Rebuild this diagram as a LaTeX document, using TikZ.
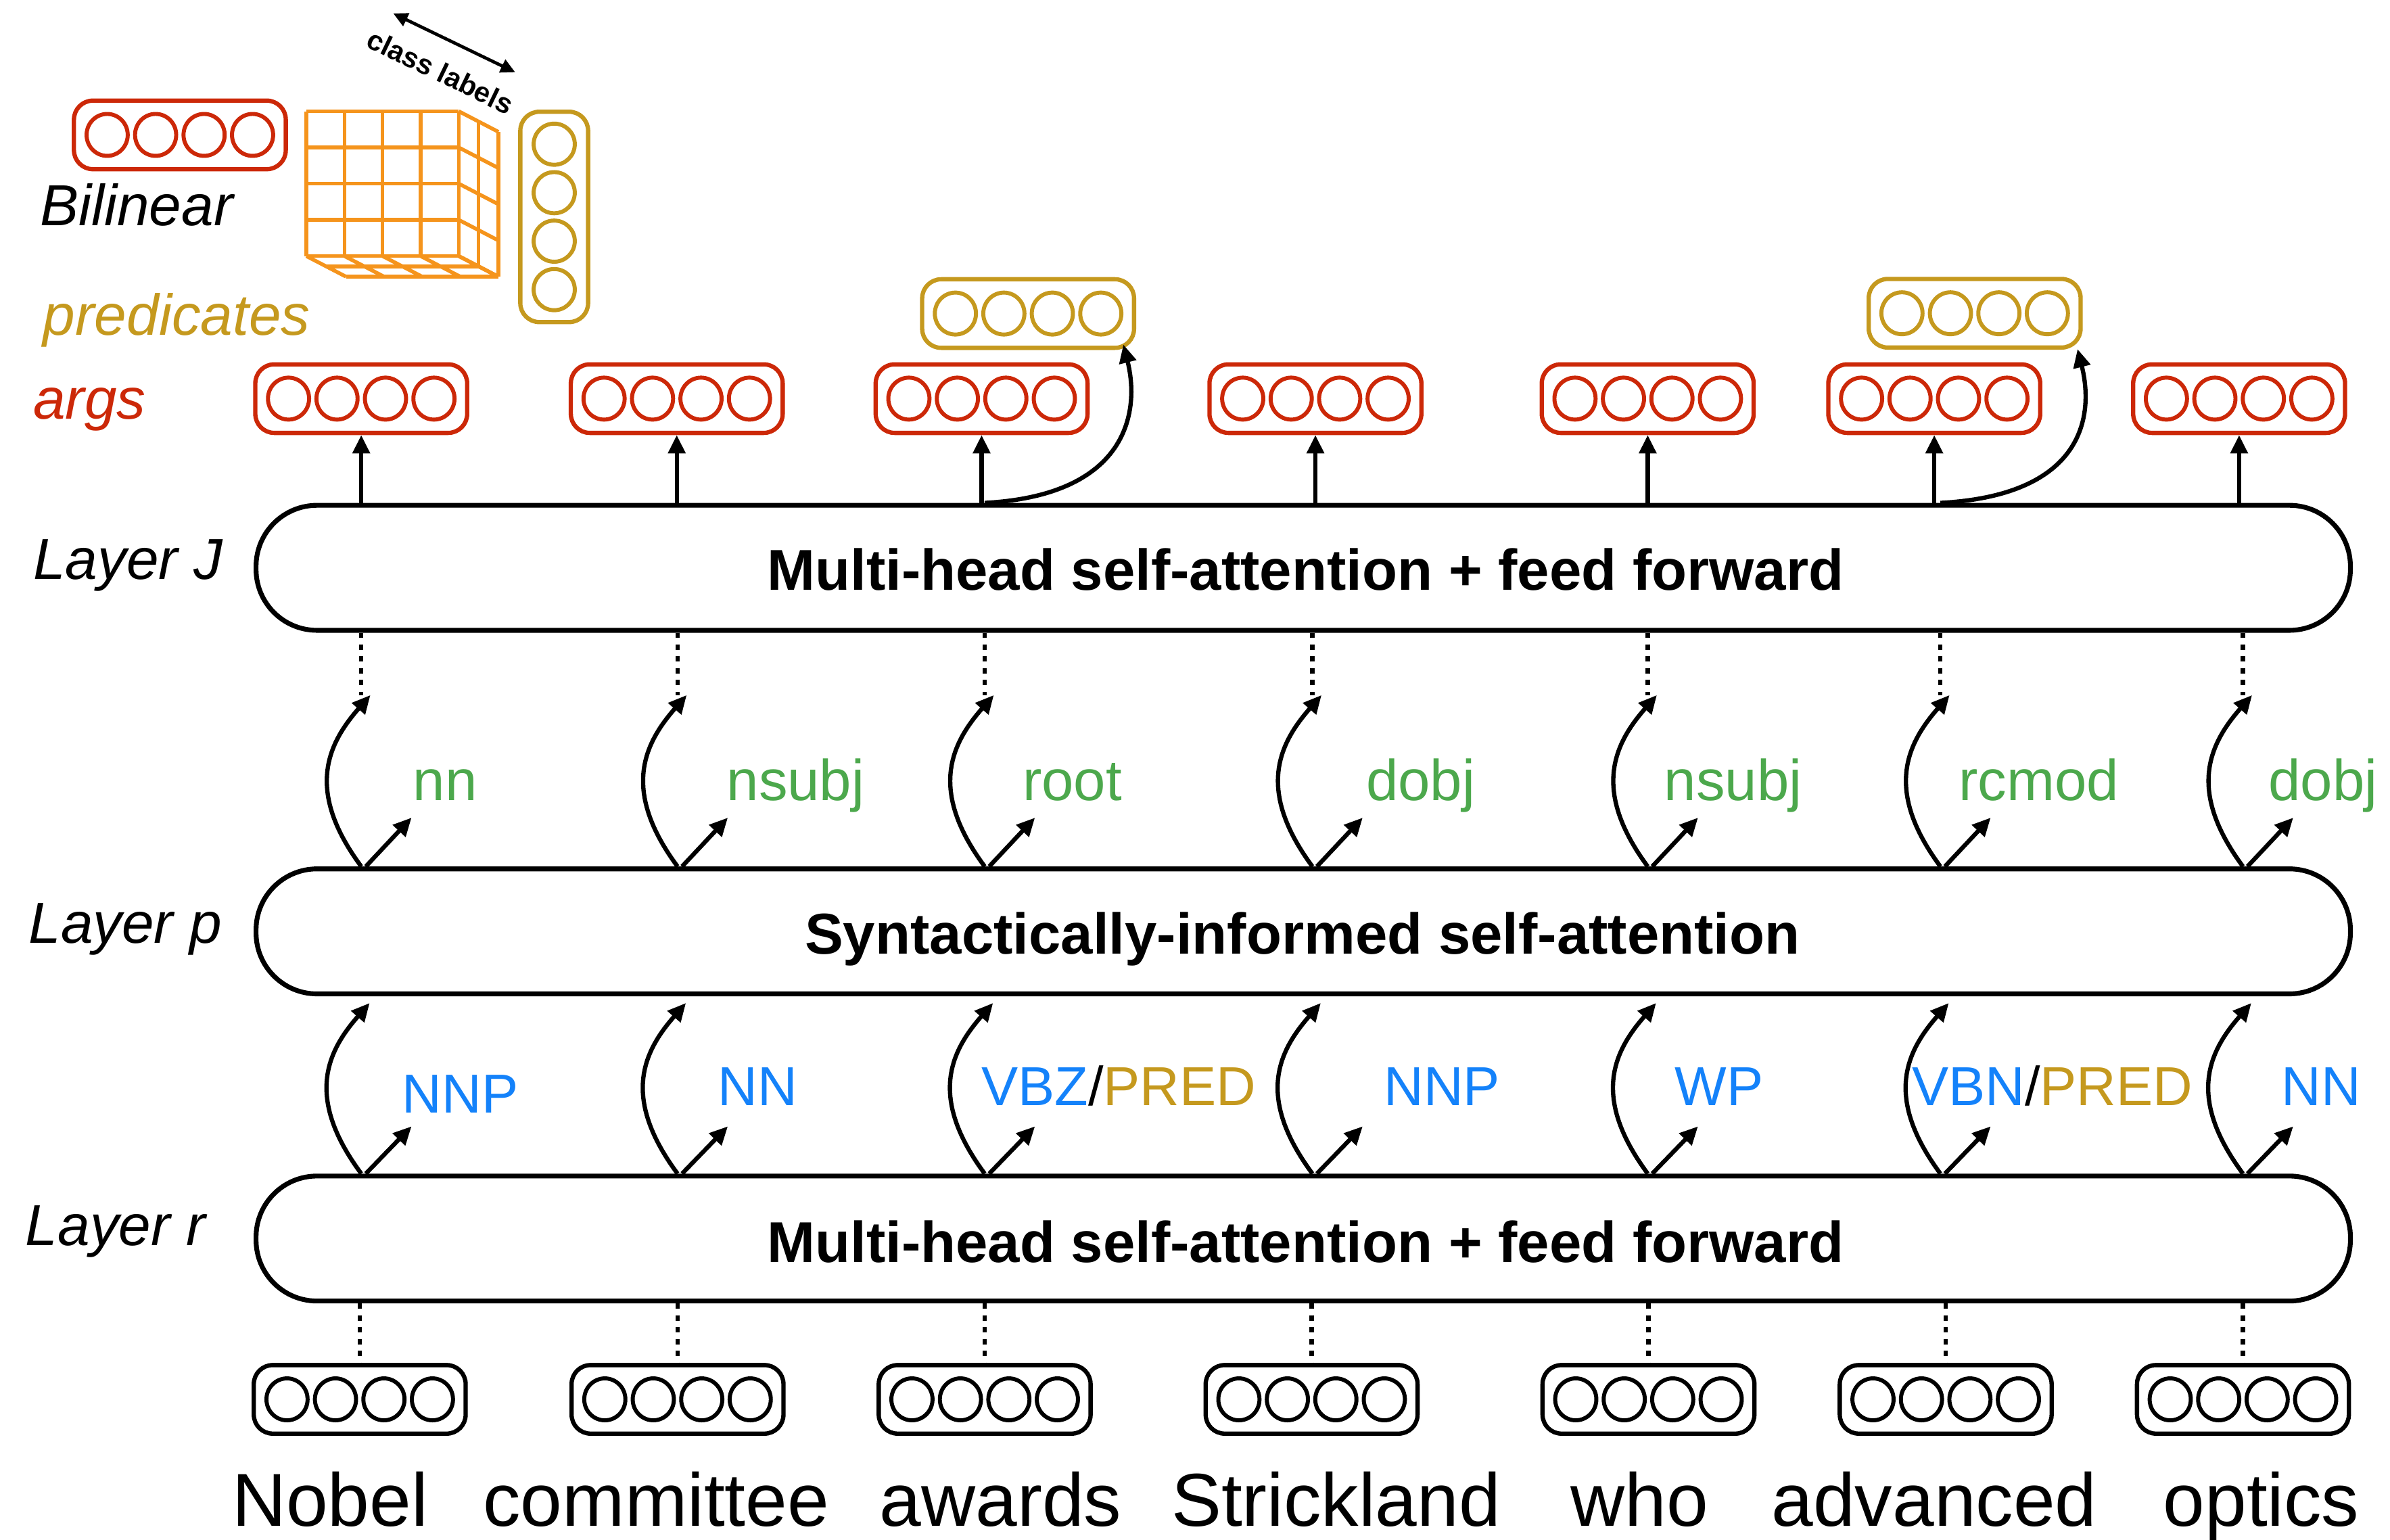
\documentclass[tikz,border=0pt]{standalone}
\usepackage{fontspec}
\setmainfont{Liberation Sans}
\usetikzlibrary{arrows.meta,calc}
\definecolor{cred}{RGB}{204,40,8}
\definecolor{cgold}{RGB}{197,153,30}
\definecolor{corange}{RGB}{245,148,28}
\definecolor{cgreen}{RGB}{76,168,76}
\definecolor{cblue}{RGB}{20,130,250}
\newcommand\szbox{\fontsize{21.5pt}{26pt}\selectfont\bfseries}
\newcommand\szlab{\fontsize{21.6pt}{26pt}\selectfont\itshape}
\newcommand\szword{\fontsize{28pt}{33pt}\selectfont}
\newcommand\szdep{\fontsize{21.5pt}{26pt}\selectfont}
\newcommand\szpos{\fontsize{20.5pt}{25pt}\selectfont}
\newcommand\szcls{\fontsize{10.5pt}{12pt}\selectfont\bfseries}
\begin{document}
\begin{tikzpicture}[x=0.2mm,y=-0.2mm,
  vecbox/.style={draw=#1, line width=1.6pt, rounded corners=2.5mm,
    minimum width=27.8mm, minimum height=9mm, inner sep=0pt,
    path picture={\foreach \k in {-1.5,-0.5,0.5,1.5}{
      \draw[#1,line width=1.5pt] ([xshift=\k*6.36mm]path picture bounding box.center)
        ellipse [x radius=2.7mm, y radius=2.75mm];}}},
  vvecbox/.style={draw=#1, line width=1.6pt, rounded corners=2.5mm,
    minimum width=8.9mm, minimum height=27.6mm, inner sep=0pt,
    path picture={\foreach \k in {-1.5,-0.5,0.5,1.5}{
      \draw[#1,line width=1.5pt] ([yshift=\k*6.36mm]path picture bounding box.center)
        ellipse [x radius=2.7mm, y radius=2.7mm];}}},
  layerbox/.style={draw, line width=1.8pt, rounded corners=8mm,
    minimum width=274.8mm, minimum height=16.4mm, inner sep=0pt},
  boxtxt/.style={font=\szbox, anchor=base, inner sep=0pt},
  lbl/.style={font=\szlab, anchor=base west, inner sep=0pt},
  wordtxt/.style={font=\szword, anchor=base, inner sep=0pt},
  deptxt/.style={font=\szdep, text=cgreen, anchor=base, inner sep=0pt},
  postxt/.style={font=\szpos, text=cblue, anchor=base, inner sep=0pt},
  arr/.style={-{Triangle[length=2.4mm,width=2.2mm]}, line width=1.6pt},
  dotl/.style={line width=1.6pt, dash pattern=on 0.7mm off 0.85mm}
]
\useasboundingbox (0,0) rectangle (1568,1010);

% ---------- legend (top left) ----------
\node[vecbox=cred] (legred) at (118,88.5) {};
\node[vvecbox=cgold] (leggold) at (363.6,142.3) {};
\node[lbl] (bil) at (26,148) {Bilinear};
\node[lbl, text=cgold] (predl) at (28,220) {predicates};
\node[lbl, text=cred] (argsl) at (21.5,275) {args};

% cube
\begin{scope}[corange, line width=1.4pt]
\foreach \i in {0,...,4} {
  \draw (201+25*\i,73) -- (201+25*\i,168);
  \draw (201,73+23.75*\i) -- (301,73+23.75*\i);
  \draw (301,73+23.75*\i) -- (327,86.5+23.75*\i);
  \draw (201+25*\i,168) -- (227+25*\i,181.5);
}
\draw (314,79.75) -- (314,174.75);
\draw (327,86.5) -- (327,181.5);
\draw (214,174.75) -- (314,174.75);
\draw (227,181.5) -- (327,181.5);
\end{scope}

% class labels
\coordinate (cla) at (258,8.8);
\coordinate (clb) at (338,47.4);
\draw[{Triangle[length=1.9mm,width=1.8mm]}-{Triangle[length=1.9mm,width=1.8mm]}, line width=1.2pt] (cla) -- (clb);
\node[font=\szcls, rotate=-25.8, inner sep=0pt] (cltxt) at (289,47) {class labels};

% ---------- layer boxes ----------
\node[layerbox] (J) at (855,372.5) {};
\node[layerbox] (P) at (855,611) {};
\node[layerbox] (R) at (855,812.5) {};
\node[boxtxt] (Jt) at (856.5,387) {Multi-head self-attention + feed forward};
\node[boxtxt] (Pt) at (854.5,626) {Syntactically-informed self-attention};
\node[boxtxt] (Rt) at (856.5,828) {Multi-head self-attention + feed forward};
\node[lbl] (LJ) at (21.5,380) {Layer J};
\node[lbl] (LP) at (18.5,618.5) {Layer p};
\node[lbl] (LR) at (16.5,817) {Layer r};

% ---------- columns ----------
\foreach \i/\x in {1/237,2/444.5,3/646,4/861,5/1081,6/1273,7/1471.5}{
  \coordinate (c\i) at (\x,0);
  \coordinate (tu\i) at (\x+6,456);
  \coordinate (tl\i) at (\x+5.5,658);
}

% args and predicate vectors
\foreach \i/\x in {1/237,2/444,3/644,4/863,5/1081,6/1269,7/1469}
  \node[vecbox=cred] (a\i) at (\x,261.5) {};
\node[vecbox=cgold] (q3) at (674.5,205.7) {};
\node[vecbox=cgold] (q6) at (1295.5,205.5) {};
\coordinate (qt3) at (737,226);
\coordinate (qt6) at (1363,229);

% input vectors
\foreach \i/\x in {1/236,2/444.5,3/646,4/860.5,5/1081.5,6/1276.5,7/1471.5}
  \node[vecbox=black] (b\i) at (\x,918) {};

% arrows J -> args
\foreach \i in {1,...,7}
  \draw[arr] (a\i.south |- J.north) -- (a\i.south);
\draw[arr] (c3 |- J.north) .. controls +(94,-5) and +(11,44) .. (qt3);
\draw[arr] (c6 |- J.north) .. controls +(94,-5) and +(11,44) .. (qt6);

% between layers
\foreach \i in {1,...,7}{
  \draw[dotl] (c\i |- J.south) -- (c\i |- tu\i);
  \draw[arr] (c\i |- P.north) .. controls +(-37,-50) and +(-28,32) .. (tu\i);
  \draw[arr] ($(c\i |- P.north)+(3,0)$) -- +(30,-32);
  \draw[arr] (c\i |- R.north) .. controls +(-37,-50) and +(-28,32) .. (tl\i);
  \draw[arr] ($(c\i |- R.north)+(3,0)$) -- +(30,-31);
  \draw[dotl] (b\i |- R.south) -- (b\i.north);
}

% dependency labels
\foreach \i/\t/\x in {1/nn/292,2/nsubj/522,3/root/703.5,4/dobj/932,5/nsubj/1137,6/rcmod/1337.5,7/dobj/1524}
  \node[deptxt] (d\i) at (\x,525) {\t};

% POS labels
\node[postxt] (p1) at (302,730) {NNP};
\node[postxt] (p2) at (497,725) {NN};
\node[postxt] (p3) at (734,725) {VBZ\textcolor{black}{/}\textcolor{cgold}{PRED}};
\node[postxt] (p4) at (946,725) {NNP};
\node[postxt] (p5) at (1128,725) {WP};
\node[postxt] (p6) at (1346.5,725) {VBN\textcolor{black}{/}\textcolor{cgold}{PRED}};
\node[postxt] (p7) at (1523,725) {NN};

% words
\foreach \i/\t/\x in {1/Nobel/216.5,2/committee/430.5,3/awards/656.5,4/Strickland/876.5,5/who/1075.5,6/advanced/1269,7/optics/1483.5}
  \node[wordtxt] (w\i) at (\x,1001) {\t};
\end{tikzpicture}
\end{document}
